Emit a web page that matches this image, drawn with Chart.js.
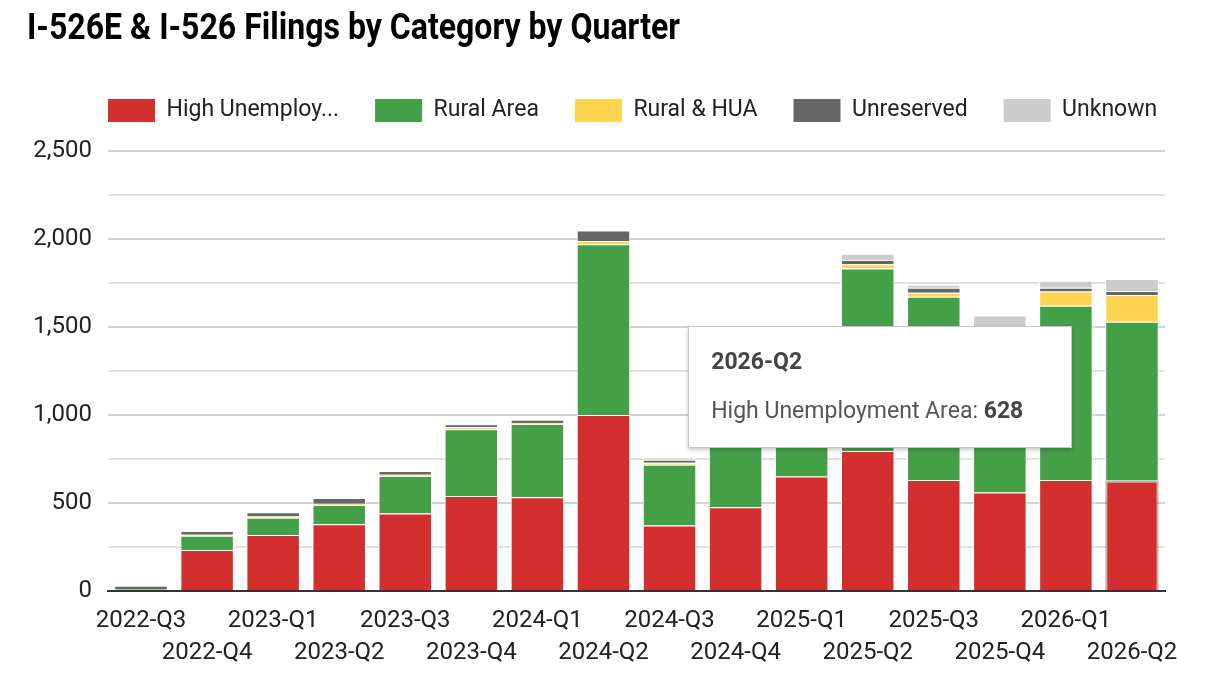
<!DOCTYPE html>
<html><head><meta charset="utf-8">
<script src="https://cdn.jsdelivr.net/npm/chart.js@4.4.1/dist/chart.umd.min.js"></script>
<style>
html,body{margin:0;padding:0;background:#fff;}
#wrap{position:relative;width:1210px;height:680px;overflow:hidden;}
#c{position:absolute;left:0;top:0;width:1210px;height:680px;}
#title{position:absolute;left:27px;top:9px;font-family:Roboto;font-weight:700;font-size:36px;line-height:36px;color:#000;white-space:nowrap;transform-origin:0 0;}
#tip{position:absolute;display:none;background:#fff;border:1px solid #c8c8c8;box-shadow:0 2px 4px rgba(0,0,0,0.22);font-family:Roboto;box-sizing:border-box;padding:22px 48px 23px 22px;white-space:nowrap;}
#tip .tt{font-weight:700;font-size:23px;line-height:26px;color:#444;}
#tip .tb{margin-top:23px;font-size:23px;line-height:26px;color:#555;}
#tip .tb b{color:#444;}
</style></head>
<body>
<div id="wrap">
<canvas id="c" width="1210" height="680"></canvas>
<div id="title">I-526E &amp; I-526 Filings by Category by Quarter</div>
<div id="tip"></div>
</div>
<script>
const categories = ['2022-Q3','2022-Q4','2023-Q1','2023-Q2','2023-Q3','2023-Q4','2024-Q1','2024-Q2','2024-Q3','2024-Q4','2025-Q1','2025-Q2','2025-Q3','2025-Q4','2026-Q1','2026-Q2'];
const seriesNames = ['High Unemployment Area','Rural Area','Rural & HUA','Unreserved','Unknown'];
const highUnemployment = [0,233,318,379,441,540,532,1000,372,476,650,795,630,560,630,628];
const ruralArea        = [12,81,98,110,212,379,417,970,346,500,620,1038,1042,820,991,902];
const ruralHua         = [0,6,7,7,7,12,6,18,10,6,10,23,23,40,80,152];
const unreserved       = [18,21,24,32,22,16,18,60,18,18,20,24,28,15,22,23];
const unknown          = [0,0,0,0,0,0,0,0,0,0,15,36,17,130,40,68];
const yTicks = [0,250,500,750,1000,1250,1500,1750,2000,2250,2500];
const yLabelStep = 500;
const seriesColors = ['#d32f2f','#43a047','#ffd54f','#666666','#cccccc'];
const activeIndex = categories.length - 1;

const AREA_LEFT = 108, LEGEND_PAD = 36;

function truncate(t){ return t.length > 14 ? t.slice(0,13) + '...' : t; }

const allSeries = [highUnemployment, ruralArea, ruralHua, unreserved, unknown];
const datasets = allSeries.map((d,i)=>({
  label: seriesNames[i],
  data: d,
  backgroundColor: seriesColors[i],
  hoverBackgroundColor: seriesColors[i],
  borderColor: '#ffffff',
  hoverBorderColor: i === 0 ? 'rgba(0,0,0,0.28)' : '#ffffff',
  borderWidth: 1,
  hoverBorderWidth: i === 0 ? 2 : 1,
  barPercentage: 0.81,
  categoryPercentage: 1.0
}));

const legendPatch = {
  id: 'legendPatch',
  beforeLayout(chart){
    const lg = chart.legend;
    if (lg && !lg._patched){
      const f = lg.fit;
      lg.fit = function(){ f.call(this); this.height += 19; };
      lg._patched = true;
    }
  },
  afterLayout(chart){
    const lg = chart.legend;
    if (lg){
      const shift = (AREA_LEFT - LEGEND_PAD) - lg.left;
      lg.left += shift;
      lg.right += shift;
    }
  }
};

function externalTip(context){
  const tip = document.getElementById('tip');
  const t = context.tooltip;
  if (!t || t.opacity === 0 || !t.dataPoints || !t.dataPoints.length){ tip.style.display='none'; return; }
  const dp = t.dataPoints[0];
  tip.innerHTML = '<div class="tt">' + categories[dp.dataIndex] + '</div><div class="tb">' +
    dp.dataset.label + ': <b>' + Number(dp.raw).toLocaleString('en-US') + '</b></div>';
  tip.style.display = 'block';
  const el = dp.element;
  const w = tip.offsetWidth;
  tip.style.left = (el.x - el.width/2 - 33 - w) + 'px';
  tip.style.top = (el.y - 154) + 'px';
}

Chart.defaults.font.family = 'Roboto';
Chart.defaults.color = '#222';

const chart = new Chart(document.getElementById('c'), {
  type: 'bar',
  data: { labels: categories, datasets },
  options: {
    responsive: false,
    animation: false,
    events: [],
    layout: { padding: { left: 0, right: 45, top: 63, bottom: 0 } },
    plugins: {
      title: { display: false },
      legend: {
        position: 'top',
        align: 'start',
        labels: {
          boxWidth: 47, boxHeight: 23, padding: LEGEND_PAD,
          font: { size: 23 }, color: '#222',
          generateLabels(chart){
            return Chart.defaults.plugins.legend.labels.generateLabels(chart).map(l => Object.assign(l, { text: truncate(l.text), lineWidth: 0 }));
          }
        }
      },
      tooltip: { enabled: false, external: externalTip, mode: 'nearest', intersect: true }
    },
    scales: {
      x: {
        stacked: true,
        grid: { display: false, drawTicks: false },
        border: { display: true, color: '#333333', width: 2 },
        ticks: {
          autoSkip: false, maxRotation: 0, minRotation: 0, padding: 14.5,
          font: { size: 24, lineHeight: 1.3333 }, color: '#222',
          callback(v, i){ const s = categories[i]; return i % 2 === 0 ? [s, ''] : ['', s]; }
        },
        afterFit(s){ s.height = 89; }
      },
      y: {
        stacked: true,
        min: 0, max: 2500,
        afterBuildTicks(s){ s.ticks = yTicks.map(v => ({ value: v })); },
        grid: {
          color: c => (c.tick && c.tick.value % yLabelStep === 0) ? '#d2d2d2' : '#e0e0e0',
          lineWidth: 2, drawTicks: false
        },
        border: { display: false },
        ticks: {
          autoSkip: false,
          padding: 16, font: { size: 24 }, color: '#222',
          callback(v){ return v % yLabelStep === 0 ? Number(v).toLocaleString('en-US') : ''; }
        },
        afterFit(s){ s.width = AREA_LEFT; }
      }
    }
  },
  plugins: [legendPatch]
});

const act = [{ datasetIndex: 0, index: activeIndex }];
chart.setActiveElements(act);
chart.tooltip.setActiveElements(act, { x: 0, y: 0 });
chart.update();

function fitTitle(){
  const t = document.getElementById('title');
  t.style.transform = 'none';
  const w = t.getBoundingClientRect().width;
  t.style.transform = 'scaleX(' + (653 / w) + ')';
}
fitTitle();
if (document.fonts) document.fonts.ready.then(fitTitle);
</script>
</body></html>
